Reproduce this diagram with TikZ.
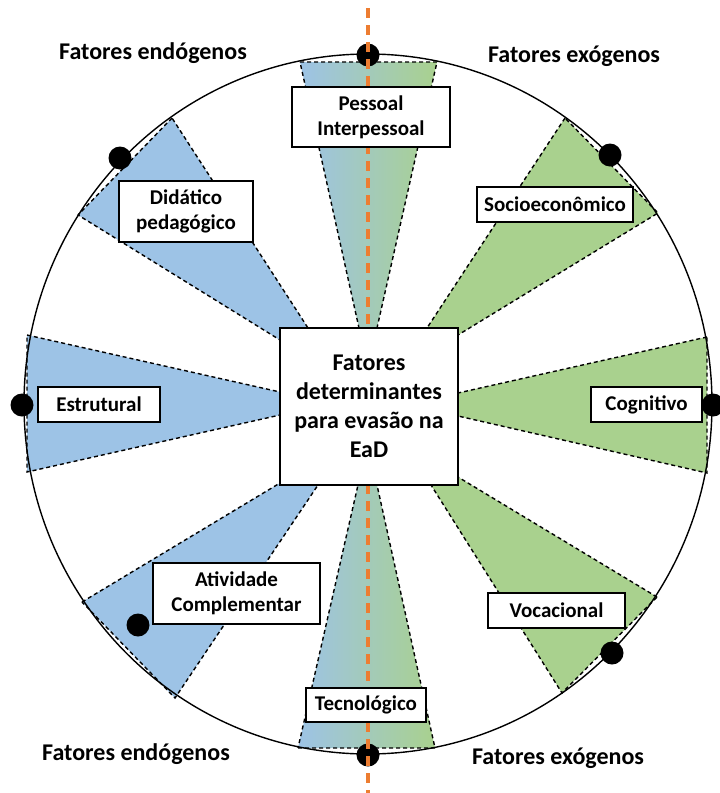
\documentclass[tikz,border=0pt]{standalone}
\usepackage{fontspec}
\setmainfont{Carlito}
\definecolor{wblue}{RGB}{157,195,230}
\definecolor{wgreen}{RGB}{169,209,142}
\definecolor{dorange}{RGB}{237,125,49}
\begin{document}
\begin{tikzpicture}[x=1pt,y=-1pt,
  wedge/.style={draw=black,line width=1.4pt,dash pattern=on 4pt off 3pt},
  lbl/.style={draw=black,fill=white,line width=1.2pt,inner sep=0pt,align=center,
     font=\fontsize{21}{25}\selectfont\bfseries},
  hdr/.style={inner sep=0pt,anchor=base,font=\fontsize{24}{29}\selectfont\bfseries},
  dot/.style={circle,fill=black,inner sep=0pt,minimum size=23pt}]
\useasboundingbox (0,0) rectangle (720,793);
% wedges
\path[wedge,fill=wblue] (172,118) -- (78,215) -- (280,340) -- (280,328) -- (308,328) -- cycle;
\path[wedge,fill=wgreen] (565,118) -- (427,328) -- (458,328) -- (458,335) -- (658,213) -- cycle;
\path[wedge,fill=wblue] (82,602) -- (280,483) -- (280,485) -- (318,485) -- (175,698) -- cycle;
\path[wedge,fill=wgreen] (657,597) -- (458,477) -- (458,485) -- (431,485) -- (562,693) -- cycle;
\path[wedge,fill=wblue] (27,335) -- (280,392) -- (280,415) -- (27,472) -- cycle;
\path[wedge,fill=wgreen] (707,337) -- (458,393) -- (458,416) -- (707,473) -- cycle;
\path[wedge,left color=wblue,right color=wgreen] (300,62) -- (437,62) -- (377,328) -- (359,328) -- cycle;
\path[wedge,left color=wblue,right color=wgreen] (298,748) -- (435,748) -- (377,485) -- (358,485) -- cycle;
% circle
\draw[line width=1.4pt] (368,404) ellipse [x radius=344, y radius=350];
% dots
\node[dot] (d1) at (368,55) {};
\node[dot] (d2) at (120,158) {};
\node[dot] (d3) at (610,155) {};
\node[dot] (d4) at (22,405) {};
\node[dot] (d5) at (713,405) {};
\node[dot] (d6) at (138,625) {};
\node[dot] (d7) at (612,653) {};
\node[dot] (d8) at (368,755) {};
% orange axis
\coordinate (axtop) at (368,8);
\coordinate (axbot) at (368,793);
\draw[dorange,line width=3.5pt,dash pattern=on 10pt off 7pt] (axtop) -- (axbot);
% center box
\node[draw=black,fill=white,line width=1.5pt,inner sep=0pt,align=center,
  minimum width=178pt,minimum height=157pt,
  font=\fontsize{24}{29}\selectfont\bfseries] (c) at (369,406.5)
  {Fatores\\determinantes\\para evasão na\\EaD};
% labels
\node[lbl,minimum width=158pt,minimum height=60pt] (pes) at (371,117) {Pessoal\\Interpessoal};
\node[lbl,minimum width=134pt,minimum height=61pt] (did) at (186,211.5) {Didático\\pedagógico};
\node[lbl,minimum width=156pt,minimum height=35pt] (soc) at (555,204.5) {Socioeconômico};
\node[lbl,minimum width=122pt,minimum height=35pt] (est) at (99,404.5) {Estrutural};
\node[lbl,minimum width=111pt,minimum height=35pt] (cog) at (646.5,404.5) {Cognitivo};
\node[lbl,minimum width=167pt,minimum height=61pt] (ati) at (236.5,593.5) {Atividade\\Complementar};
\node[lbl,minimum width=137pt,minimum height=35pt] (voc) at (556.5,610.5) {Vocacional};
\node[lbl,minimum width=120pt,minimum height=34pt] (tec) at (366,705) {Tecnológico};
% headers
\node[hdr] (h1) at (153,59) {Fatores endógenos};
\node[hdr] (h2) at (574,62) {Fatores exógenos};
\node[hdr] (h3) at (136,760) {Fatores endógenos};
\node[hdr] (h4) at (558,764) {Fatores exógenos};
\end{tikzpicture}
\end{document}
